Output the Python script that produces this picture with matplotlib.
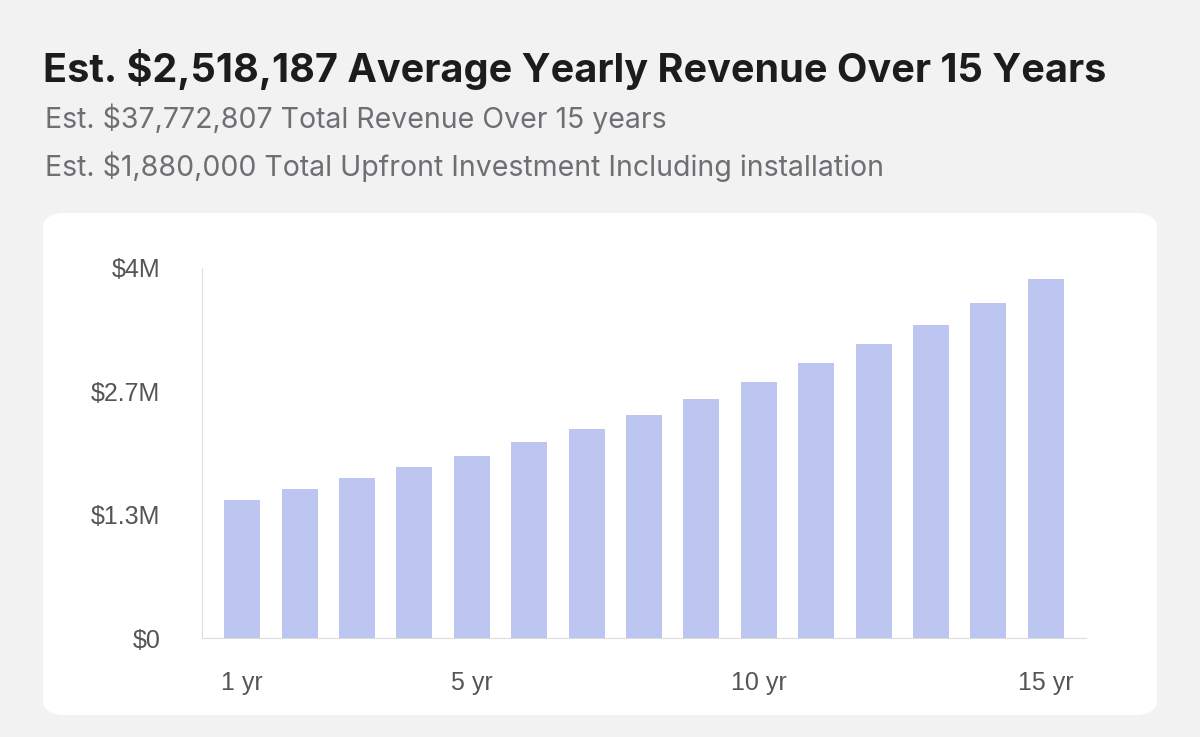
import matplotlib
matplotlib.use("Agg")
import matplotlib.pyplot as plt
from matplotlib.patches import FancyBboxPatch

years = list(range(1, 16))
revenue_m = [1.49, 1.61, 1.73, 1.85, 1.97, 2.12, 2.26, 2.41, 2.58, 2.77, 2.97, 3.18, 3.38, 3.62, 3.88]
ytick_vals = [0, 4 / 3, 8 / 3, 4]
ytick_labels = ["$0", "$1.3M", "$2.7M", "$4M"]
xtick_vals = [1, 5, 10, 15]
xtick_labels = ["1 yr", "5 yr", "10 yr", "15 yr"]

title = "Est. $2,518,187 Average Yearly Revenue Over 15 Years"
sub1 = "Est. $37,772,807 Total Revenue Over 15 years"
sub2 = "Est. $1,880,000 Total Upfront Investment Including installation"

fig = plt.figure(figsize=(12, 7.37), dpi=100)
fig.patch.set_facecolor("#f2f2f2")

# white card behind the axes
card = FancyBboxPatch((43 / 1200, 22 / 737), 1114 / 1200, 502 / 737,
                      boxstyle="round,pad=0,rounding_size=0.02",
                      transform=fig.transFigure, facecolor="white",
                      edgecolor="none", zorder=-5)
fig.patches.append(card)

fig.text(43 / 1200, 1 - 70 / 737, title, fontsize=28.5, fontweight="bold",
         family="Inter", color="#1c1c1e", va="center")
fig.text(45 / 1200, 1 - 119 / 737, sub1, fontsize=20.5, family="Inter",
         color="#6e6e73", va="center")
fig.text(45 / 1200, 1 - 167 / 737, sub2, fontsize=20.5, family="Inter",
         color="#6e6e73", va="center")

ax = fig.add_axes([202 / 1200, 1 - 638 / 737, 884 / 1200, 370 / 737], zorder=2)
ax.patch.set_alpha(0)
ax.bar(years, revenue_m, width=0.63, color="#bcc6f0")
ax.set_xlim(0.3, 15.7)
ax.set_ylim(0, 4)
ax.set_yticks(ytick_vals)
ax.set_yticklabels(ytick_labels)
ax.set_xticks(xtick_vals)
ax.set_xticklabels(xtick_labels)
ax.tick_params(axis="both", length=0, labelsize=18, labelcolor="#555555",
               labelfontfamily="Liberation Sans")
ax.tick_params(axis="y", pad=30)
ax.tick_params(axis="x", pad=24)
for s in ["top", "right"]:
    ax.spines[s].set_visible(False)
ax.spines["left"].set_color("#dddddd")
ax.spines["bottom"].set_color("#dddddd")

fig.savefig("out.png", dpi=100, facecolor=fig.get_facecolor())
